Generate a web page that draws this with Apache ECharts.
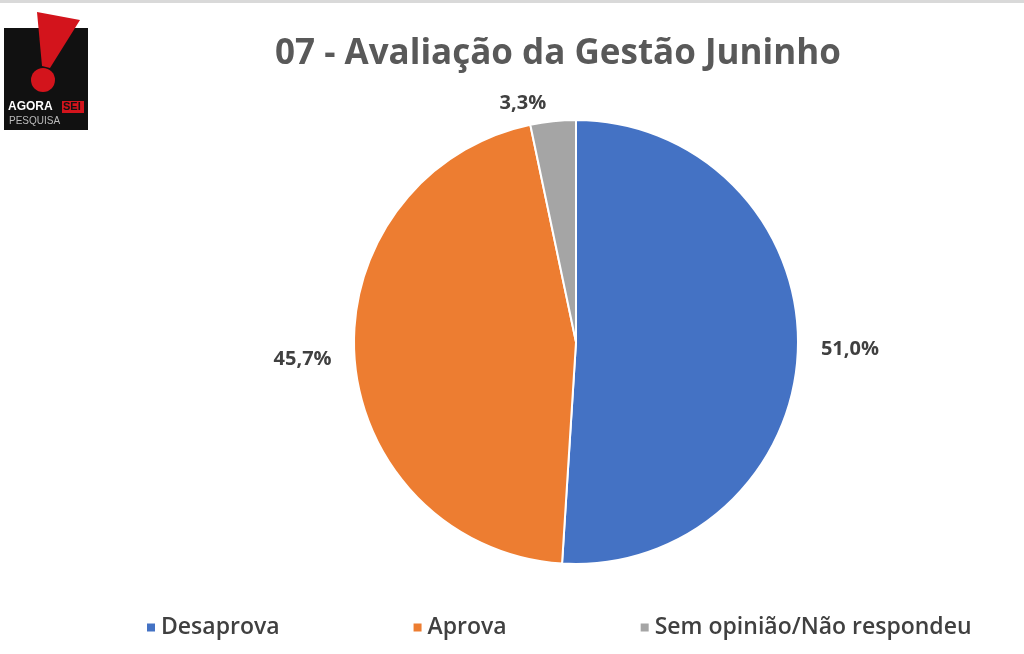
<!DOCTYPE html>
<html>
<head>
<meta charset="utf-8">
<script src="https://cdn.jsdelivr.net/npm/echarts@6/dist/echarts.min.js"></script>
<style>
html,body{margin:0;padding:0;background:#fff;}
#chartMain{width:1024px;height:654px;}
</style>
</head>
<body>
<div id="chartMain"></div>
<script>
var categories = ['Desaprova', 'Aprova', 'Sem opinião/Não respondeu'];
var values = [51.0, 45.7, 3.3];
var colors = ['#4472C4', '#ED7D31', '#A5A5A5'];

var myChart = echarts.init(document.getElementById('chartMain'));
var pieData = categories.map(function (c, i) {
    return {name: c, value: values[i], itemStyle: {color: colors[i]}};
});
var option = {
    backgroundColor: '#fff',
    title: {
        text: '07 - Avaliação da Gestão Juninho',
        left: 553, top: 32, textAlign: 'center',
        textStyle: {fontFamily: 'Open Sans', fontSize: 35, fontWeight: 'bold', color: '#595959'}
    },
    legend: {
        bottom: 10, left: 140, itemWidth: 10, itemHeight: 10, itemGap: 132,
        icon: 'rect',
        textStyle: {fontFamily: 'Open Sans', fontSize: 23, fontWeight: 600, color: '#404040'}
    },
    graphic: [
        {type: 'rect', shape: {x: 0, y: 0, width: 1024, height: 3}, style: {fill: '#d9d9d9'}},
        {type: 'rect', shape: {x: 4, y: 28, width: 84, height: 102}, style: {fill: '#111'}},
        {type: 'polygon', shape: {points: [[37, 12], [80, 20], [50, 68], [42, 66]]}, style: {fill: '#d3141c'}},
        {type: 'circle', shape: {cx: 43, cy: 80, r: 12}, style: {fill: '#d3141c'}},
        {type: 'text', style: {x: 8, y: 101, text: 'AGORA', fill: '#fff', font: 'bold 12px Liberation Sans'}},
        {type: 'rect', shape: {x: 62, y: 101, width: 22, height: 12}, style: {fill: '#d3141c'}},
        {type: 'text', style: {x: 63, y: 101, text: 'SEI', fill: '#111', font: 'bold 11px Liberation Sans'}},
        {type: 'text', style: {x: 9, y: 116, text: 'PESQUISA', fill: '#bbb', font: '10px Liberation Sans'}}
    ],
    series: [{
        type: 'pie',
        center: [576, 342],
        radius: [0, 222],
        startAngle: 90,
        clockwise: true,
        data: pieData,
        itemStyle: {borderColor: '#fff', borderWidth: 2},
        label: {
            show: true, position: 'outside',
            formatter: function (p) { return p.value.toFixed(1).replace('.', ',') + '%'; },
            fontFamily: 'Open Sans', fontSize: 20, fontWeight: 'bold', color: '#404040'
        },
        labelLine: {show: false, length: 18, length2: 0}
    }]
};
myChart.setOption(option);
</script>
</body>
</html>
